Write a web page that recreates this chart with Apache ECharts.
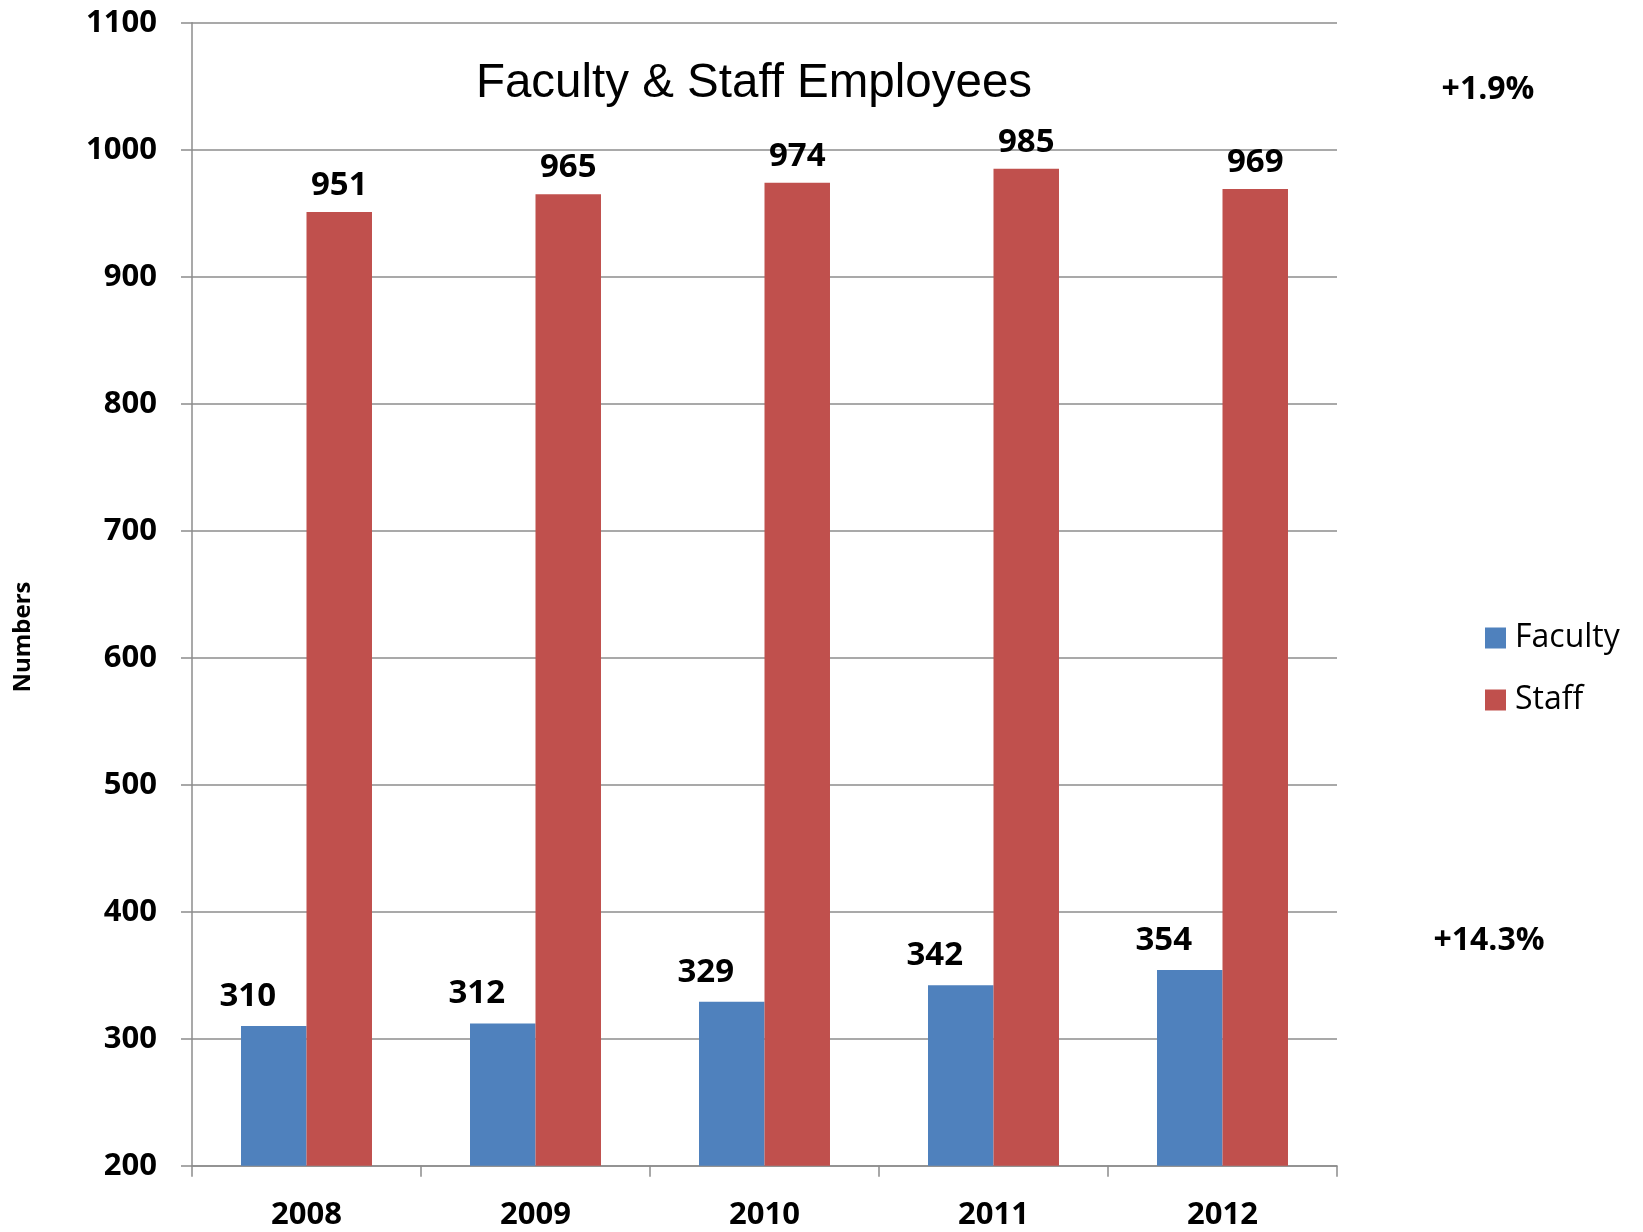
<!DOCTYPE html>
<html>
<head>
<meta charset="utf-8">
<script src="https://cdn.jsdelivr.net/npm/echarts@6/dist/echarts.min.js"></script>
<style>
html,body{margin:0;padding:0;background:#fff;}
#chart{width:1643px;height:1232px;}
</style>
</head>
<body>
<div id="chart"></div>
<script>
const years = ['2008', '2009', '2010', '2011', '2012'];
const faculty = [310, 312, 329, 342, 354];
const staff = [951, 965, 974, 985, 969];
const seriesNames = ['Faculty', 'Staff'];
const titleText = 'Faculty & Staff Employees';
const yAxisName = 'Numbers';
const staffChange = '+1.9%';
const facultyChange = '+14.3%';
const yMin = 200, yMax = 1100, yStep = 100;

const FONT = '"Open Sans", "Noto Sans", sans-serif';
const gridColor = '#8c8c8c';

const chart = echarts.init(document.getElementById('chart'));
chart.setOption({
  animation: false,
  backgroundColor: '#ffffff',
  grid: { left: 192, right: 306, top: 22.7, bottom: 66.3, containLabel: false, outerBoundsMode: 'none' },
  legend: {
    orient: 'vertical',
    left: 1480,
    top: 617,
    itemWidth: 21,
    itemHeight: 21,
    itemGap: 30,
    icon: 'rect',
    data: seriesNames,
    textStyle: { fontFamily: FONT, fontSize: 32, color: '#000', padding: [0, 0, 0, 4] }
  },
  xAxis: {
    type: 'category',
    data: years,
    axisLine: { show: true, lineStyle: { color: gridColor, width: 1.5 } },
    axisTick: { show: true, length: 11, alignWithLabel: false, lineStyle: { color: gridColor, width: 1.5 } },
    axisLabel: { fontFamily: FONT, fontWeight: 'bold', fontSize: 31, color: '#000', margin: 34 }
  },
  yAxis: {
    type: 'value',
    min: yMin,
    max: yMax,
    interval: yStep,
    axisLine: { show: true, lineStyle: { color: gridColor, width: 1.5 } },
    axisTick: { show: true, length: 11, lineStyle: { color: gridColor, width: 1.5 } },
    splitLine: { show: true, lineStyle: { color: gridColor, width: 1.5 } },
    axisLabel: { fontFamily: FONT, fontWeight: 'bold', fontSize: 31, color: '#000', margin: 35,
      formatter: function (v) { return String(v); } }
  },
  series: [
    {
      name: seriesNames[0],
      type: 'bar',
      data: faculty,
      barGap: '0%',
      barCategoryGap: '42.8%',
      itemStyle: { color: '#4F81BD' },
      label: {
        show: true, position: 'top', distance: 13, offset: [-26, 0],
        fontFamily: FONT, fontWeight: 'bold', fontSize: 33, color: '#000'
      }
    },
    {
      name: seriesNames[1],
      type: 'bar',
      data: staff,
      barGap: '0%',
      barCategoryGap: '42.8%',
      itemStyle: { color: '#C0504D' },
      label: {
        show: true, position: 'top', distance: 10,
        fontFamily: FONT, fontWeight: 'bold', fontSize: 33, color: '#000'
      }
    }
  ],
  graphic: [
    {
      type: 'text', x: 754, y: 84,
      style: { text: titleText, fontFamily: '"Liberation Sans", Arial, sans-serif', fontSize: 47.5,
        fill: '#000', textAlign: 'center', textVerticalAlign: 'middle' }
    },
    {
      type: 'text', x: 23, y: 637, rotation: Math.PI / 2,
      style: { text: yAxisName, fontFamily: FONT, fontWeight: 'bold', fontSize: 24,
        fill: '#000', textAlign: 'center', textVerticalAlign: 'middle' }
    },
    {
      type: 'text', x: 1488, y: 90,
      style: { text: staffChange, fontFamily: FONT, fontWeight: 'bold', fontSize: 32,
        fill: '#000', textAlign: 'center', textVerticalAlign: 'middle' }
    },
    {
      type: 'text', x: 1489, y: 941,
      style: { text: facultyChange, fontFamily: FONT, fontWeight: 'bold', fontSize: 32,
        fill: '#000', textAlign: 'center', textVerticalAlign: 'middle' }
    }
  ]
});
</script>
</body>
</html>
